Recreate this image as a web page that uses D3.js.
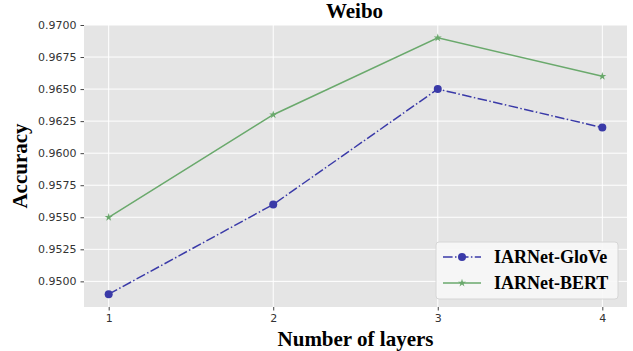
<!DOCTYPE html>
<html>
<head>
<meta charset="utf-8">
<script src="https://cdn.jsdelivr.net/npm/d3@7"></script>
<style>
  body { margin: 0; background: #fff; }
  svg { display: block; }
</style>
</head>
<body>
<div id="chart"></div>
<script>
// data
const layers = [1, 2, 3, 4];
const glove = [0.9490, 0.9560, 0.9650, 0.9620];
const bert = [0.9550, 0.9630, 0.9690, 0.9660];
const yTicks = [0.9500, 0.9525, 0.9550, 0.9575, 0.9600, 0.9625, 0.9650, 0.9675, 0.9700];
const seriesNames = ['IARNet-GloVe', 'IARNet-BERT'];

const W = 633, H = 351;
const margin = {top: 25, right: 6, bottom: 44, left: 84};
const width = W - margin.left - margin.right;
const height = H - margin.top - margin.bottom;

const blue = '#3a3aa8', green = '#6aa96c';

const svg = d3.select('#chart').append('svg')
  .attr('width', W)
  .attr('height', H);

const g = svg.append('g')
  .attr('transform', `translate(${margin.left},${margin.top})`);

const x = d3.scaleLinear().domain([0.85, 4.15]).range([0, width]);
const y = d3.scaleLinear().domain([0.948, 0.970]).range([height, 0]);

g.append('rect')
  .attr('width', width)
  .attr('height', height)
  .attr('fill', '#e5e5e5');

// grid
g.selectAll('.hgrid').data(yTicks).join('line')
  .attr('x1', 0).attr('x2', width)
  .attr('y1', d => y(d)).attr('y2', d => y(d))
  .attr('stroke', '#fff').attr('stroke-width', 1);
g.selectAll('.vgrid').data(layers).join('line')
  .attr('x1', d => x(d)).attr('x2', d => x(d))
  .attr('y1', 0).attr('y2', height)
  .attr('stroke', '#fff').attr('stroke-width', 1);

// axes
const xAxis = g.append('g')
  .attr('transform', `translate(0,${height})`)
  .call(d3.axisBottom(x).tickValues(layers).tickFormat(d3.format('d')).tickSize(3.5).tickPadding(4));
const yAxis = g.append('g')
  .call(d3.axisLeft(y).tickValues(yTicks).tickFormat(d3.format('.4f')).tickSize(3.5).tickPadding(4));
[xAxis, yAxis].forEach(a => {
  a.select('.domain').remove();
  a.selectAll('line').attr('stroke', '#444');
  a.selectAll('text')
    .attr('fill', '#333')
    .style('font-family', '"DejaVu Sans", sans-serif')
    .style('font-size', '11px');
});

const line = d3.line()
  .x((d, i) => x(layers[i]))
  .y(d => y(d));

// BERT line
g.append('path')
  .datum(bert)
  .attr('fill', 'none')
  .attr('stroke', green)
  .attr('stroke-width', 1.5)
  .attr('d', line);
const star = d3.symbol().type(d3.symbolStar).size(20);
g.selectAll('.star').data(bert).join('path')
  .attr('d', star)
  .attr('transform', (d, i) => `translate(${x(layers[i])},${y(d)})`)
  .attr('fill', green);

// GloVe line
g.append('path')
  .datum(glove)
  .attr('fill', 'none')
  .attr('stroke', blue)
  .attr('stroke-width', 1.5)
  .attr('stroke-dasharray', '9.6,2.4,1.5,2.4')
  .attr('d', line);
g.selectAll('.dot').data(glove).join('circle')
  .attr('cx', (d, i) => x(layers[i]))
  .attr('cy', d => y(d))
  .attr('r', 4)
  .attr('fill', blue);

// title and labels
const serif = '"Liberation Serif", "Times New Roman", serif';
svg.append('text')
  .attr('x', margin.left + width / 2 - 1)
  .attr('y', 18)
  .attr('text-anchor', 'middle')
  .style('font-family', serif)
  .style('font-weight', 'bold')
  .style('font-size', '21px')
  .text('Weibo');

svg.append('text')
  .attr('transform', `translate(27,${margin.top + height / 2}) rotate(-90)`)
  .attr('text-anchor', 'middle')
  .style('font-family', serif)
  .style('font-weight', 'bold')
  .style('font-size', '21px')
  .text('Accuracy');

svg.append('text')
  .attr('x', margin.left + width / 2)
  .attr('y', 346)
  .attr('text-anchor', 'middle')
  .style('font-family', serif)
  .style('font-weight', 'bold')
  .style('font-size', '21px')
  .text('Number of layers');

// legend
const lg = svg.append('g').attr('transform', 'translate(436,242)');
lg.append('rect')
  .attr('width', 182).attr('height', 57)
  .attr('rx', 3)
  .attr('fill', '#f7f7f7').attr('fill-opacity', 0.9)
  .attr('stroke', '#d6d6d6').attr('stroke-width', 1);
const items = [
  {name: seriesNames[0], color: blue, dash: '9.6,2.4,1.5,2.4', marker: 'circle'},
  {name: seriesNames[1], color: green, dash: null, marker: 'star'}
];
items.forEach((it, i) => {
  const yy = 15 + i * 26;
  lg.append('line')
    .attr('x1', 7).attr('x2', 45)
    .attr('y1', yy).attr('y2', yy)
    .attr('stroke', it.color).attr('stroke-width', 1.5)
    .attr('stroke-dasharray', it.dash);
  if (it.marker === 'circle') {
    lg.append('circle').attr('cx', 26).attr('cy', yy).attr('r', 4).attr('fill', it.color);
  } else {
    lg.append('path').attr('d', star).attr('transform', `translate(26,${yy})`).attr('fill', it.color);
  }
  lg.append('text')
    .attr('x', 58).attr('y', yy + 6)
    .style('font-family', serif)
    .style('font-weight', 'bold')
    .style('font-size', '18px')
    .text(it.name);
});
</script>
</body>
</html>
